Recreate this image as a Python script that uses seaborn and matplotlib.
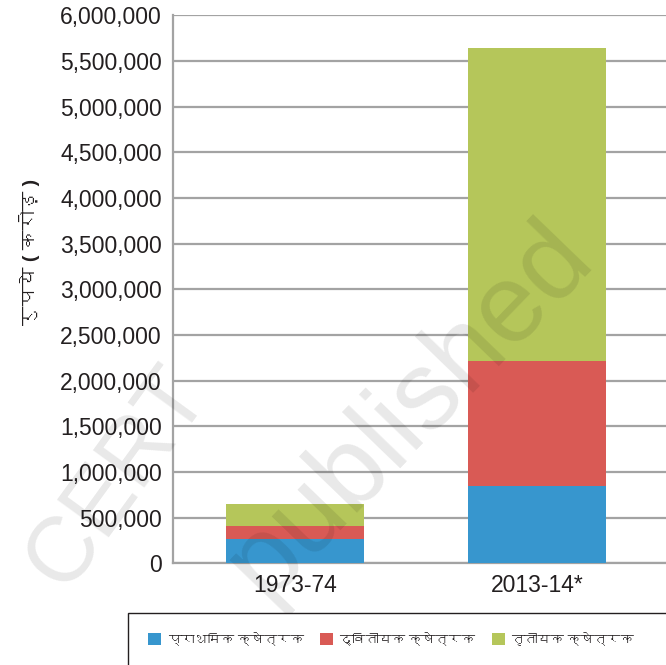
import matplotlib
matplotlib.use("Agg")
import matplotlib.pyplot as plt
import matplotlib.font_manager as fm
from matplotlib.ft2font import FT2Font
from matplotlib.patches import Rectangle, Patch
import seaborn as sns
import pandas as pd
import numpy as np

# ---- data ----
years = ["1973-74", "2013-14*"]
primary = [266000, 850000]
secondary = [146000, 1365000]
tertiary = [238000, 3430000]
sector_names = ["प्राथमिक क्षेत्रक", "द्वितीयक क्षेत्रक", "तृतीयक क्षेत्रक"]
ylabel = "रुपये ( करोड़ )"
yticks = [0, 500000, 1000000, 1500000, 2000000, 2500000, 3000000,
          3500000, 4000000, 4500000, 5000000, 5500000, 6000000]
colors = ["#3796CE", "#D95A55", "#B5C65A"]

sns.set_theme(style="white")

# find a font with Devanagari glyphs, if any
deva = None
for f in fm.fontManager.ttflist:
    try:
        if 0x0915 in FT2Font(f.fname).get_charmap():
            deva = f.name
            break
    except Exception:
        pass
fams = ["Liberation Sans"] + ([deva] if deva else []) + ["DejaVu Sans"]
plt.rcParams["font.family"] = fams

df = pd.DataFrame({"year": years, "p": primary, "s": secondary, "t": tertiary})
df["ps"] = df["p"] + df["s"]
df["pst"] = df["ps"] + df["t"]

fig = plt.figure(figsize=(6.66, 6.65), dpi=100)
W, H = 666, 665
ax = fig.add_axes([173 / W, 1 - 563.3 / H, 1 - 173 / W, (563.3 - 15.3) / H])

bw = 0.574
for col, c in zip(["pst", "ps", "p"], colors[::-1]):
    sns.barplot(data=df, x="year", y=col, color=c, width=bw, saturation=1,
                ax=ax, zorder=3, edgecolor="none", linewidth=0)

ax.set_xlim(-0.504, 1.533)
ax.set_ylim(0, 6000000)
ax.set_yticks(yticks)
ax.set_yticklabels([f"{v:,}" for v in yticks], fontsize=16.5, color="#231f20")
ax.tick_params(axis="y", length=0, pad=8)
ax.tick_params(axis="x", length=0, pad=8, labelsize=16.5, labelcolor="#231f20")
ax.set_xlabel("")
ax.set_ylabel("")
ax.grid(axis="y", color="#a3a3a3", linewidth=1.6, zorder=0)
ax.grid(axis="x", visible=False)
ax.set_axisbelow(True)
for s in ["top", "right"]:
    ax.spines[s].set_visible(False)
ax.spines["left"].set_color("#a3a3a3")
ax.spines["left"].set_linewidth(1.6)
ax.spines["bottom"].set_color("#a3a3a3")
ax.spines["bottom"].set_linewidth(1.6)

fig.text(30 / W, 1 - 252 / H, ylabel, rotation=90, ha="center", va="center",
         fontsize=14, fontweight="bold", color="#231f20")

# legend frame (extends beyond the figure edge)
fig.patches.append(Rectangle((128 / W, -0.1), 1.0, 1 - 613 / H + 0.1,
                             transform=fig.transFigure, facecolor="white",
                             edgecolor="#231f20", linewidth=1.0, zorder=5))
handles = [Patch(facecolor=c, edgecolor="none") for c in colors]
leg = fig.legend(handles, sector_names, loc="center left",
                 bbox_to_anchor=(148 / W, 1 - 640 / H), ncol=3, frameon=False,
                 fontsize=9.5, handlelength=1.0, handleheight=1.0,
                 handletextpad=0.5, columnspacing=1.2, borderaxespad=0,
                 borderpad=0)
leg.set_zorder(6)
for t in leg.get_texts():
    t.set_color("#231f20")

# faint watermark
fig.text(118 / W, 1 - 478 / H, "CERT", rotation=54, ha="center", va="center",
         fontsize=66, color="black", alpha=0.09, zorder=4,
         family="Liberation Sans")
fig.text(410 / W, 1 - 410 / H, "published", rotation=46, ha="center", va="center",
         fontsize=80, color="black", alpha=0.09, zorder=4,
         family="Liberation Sans")

fig.savefig("out.png", dpi=100)
